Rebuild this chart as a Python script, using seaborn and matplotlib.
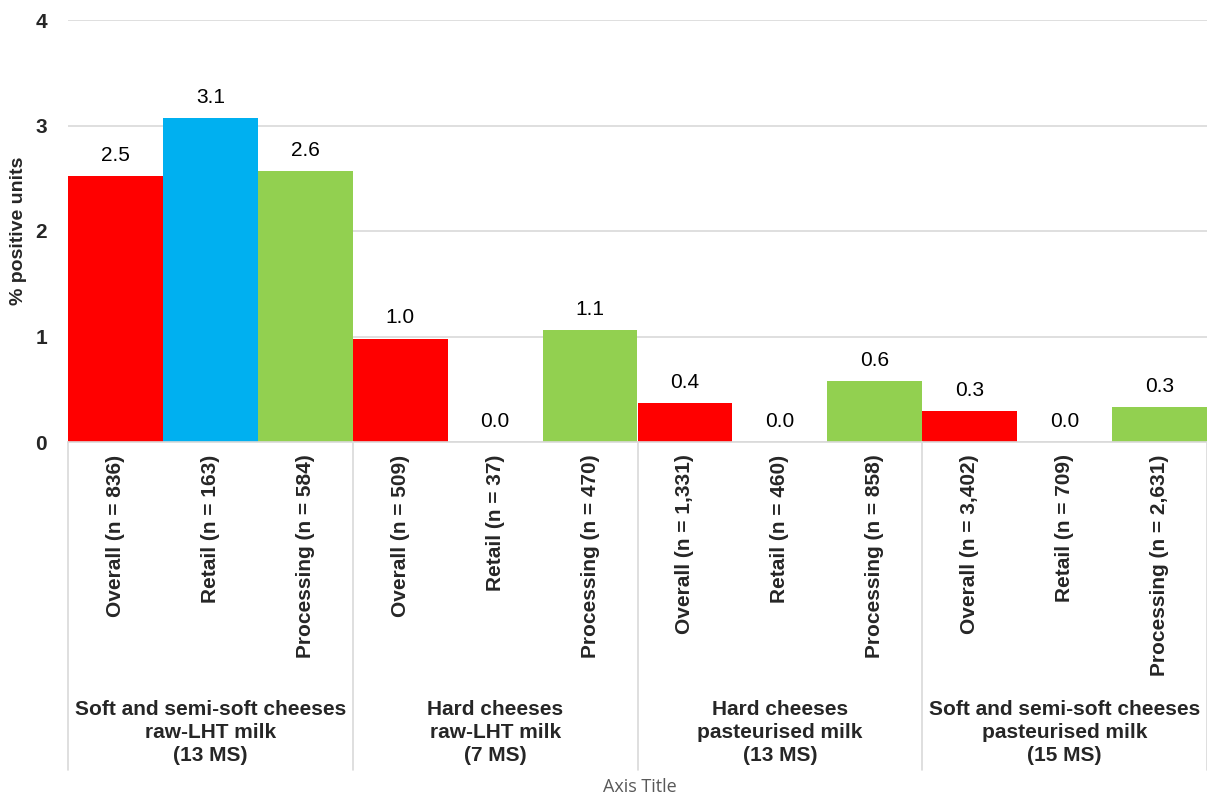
import matplotlib
matplotlib.use("Agg")
import matplotlib.pyplot as plt
import matplotlib.transforms as mtransforms
import seaborn as sns
import pandas as pd

# data
bar_labels = [
    "Overall (n = 836)", "Retail (n = 163)", "Processing (n = 584)",
    "Overall (n = 509)", "Retail (n = 37)", "Processing (n = 470)",
    "Overall (n = 1,331)", "Retail (n = 460)", "Processing (n = 858)",
    "Overall (n = 3,402)", "Retail (n = 709)", "Processing (n = 2,631)",
]
bar_types = ["Overall", "Retail", "Processing"] * 4
pct_positive = [2.52, 3.07, 2.57, 0.98, 0.0, 1.06, 0.37, 0.0, 0.58, 0.29, 0.0, 0.33]
group_labels = [
    "Soft and semi-soft cheeses\nraw-LHT milk\n(13 MS)",
    "Hard cheeses\nraw-LHT milk\n(7 MS)",
    "Hard cheeses\npasteurised milk\n(13 MS)",
    "Soft and semi-soft cheeses\npasteurised milk\n(15 MS)",
]
palette = {"Overall": "#FF0000", "Retail": "#00B0F0", "Processing": "#92D050"}

df = pd.DataFrame({"label": bar_labels, "type": bar_types, "value": pct_positive})

sns.set_style("white")
plt.rcParams["font.family"] = ["Liberation Sans", "DejaVu Sans"]

fig = plt.figure(figsize=(12.07, 7.96), dpi=100)
ax = fig.add_axes([68 / 1207, 354 / 796, 1139 / 1207, 422 / 796])

sns.barplot(data=df, x="label", y="value", hue="type", palette=palette,
            dodge=False, width=1.0, legend=False, ax=ax, saturation=1,
            linewidth=0)

ax.set_xlim(-0.5, len(bar_labels) - 0.5)
ax.set_ylim(0, 4)
ax.set_yticks([0, 1, 2, 3, 4])
ax.yaxis.grid(True, color="#d9d9d9", linewidth=1.2)
ax.set_axisbelow(True)
for s in ["top", "right", "left"]:
    ax.spines[s].set_visible(False)
ax.spines["bottom"].set_color("#d9d9d9")
ax.spines["bottom"].set_linewidth(1.2)

ax.tick_params(axis="y", length=0, pad=15, labelsize=15)
for t in ax.get_yticklabels():
    t.set_fontweight("bold")
ax.tick_params(axis="x", length=0, pad=9, labelsize=15)
ax.set_xticks(range(len(bar_labels)))
ax.set_xticklabels(bar_labels, rotation=90, fontweight="bold", va="top")

ax.set_ylabel("")
ax.set_xlabel("")
fig.text(19 / 1207, 565 / 796, "% positive units", rotation=90, ha="center",
         va="center", fontsize=14, fontweight="bold")

for i, v in enumerate(pct_positive):
    ax.annotate(f"{v:.1f}", xy=(i, v), xytext=(0, 8), textcoords="offset points",
                ha="center", va="bottom", fontsize=15, color="#000000")

# group separators and labels below the tick labels
trans = mtransforms.blended_transform_factory(ax.transData, fig.transFigure)
for b in [-0.5, 2.5, 5.5, 8.5, 11.5]:
    ax.plot([b, b], [354 / 796, 26 / 796], transform=trans, color="#d9d9d9",
            linewidth=1.2, clip_on=False)
for g, lab in enumerate(group_labels):
    ax.text(g * 3 + 1, 96 / 796, lab, transform=trans, ha="center", va="top",
            fontsize=15, fontweight="bold", linespacing=1.28)

fig.text(640 / 1207, 9 / 796, "Axis Title", ha="center", va="center",
         fontsize=13, color="#595959", family=["Open Sans", "DejaVu Sans"])

fig.savefig("out.png", dpi=100)
